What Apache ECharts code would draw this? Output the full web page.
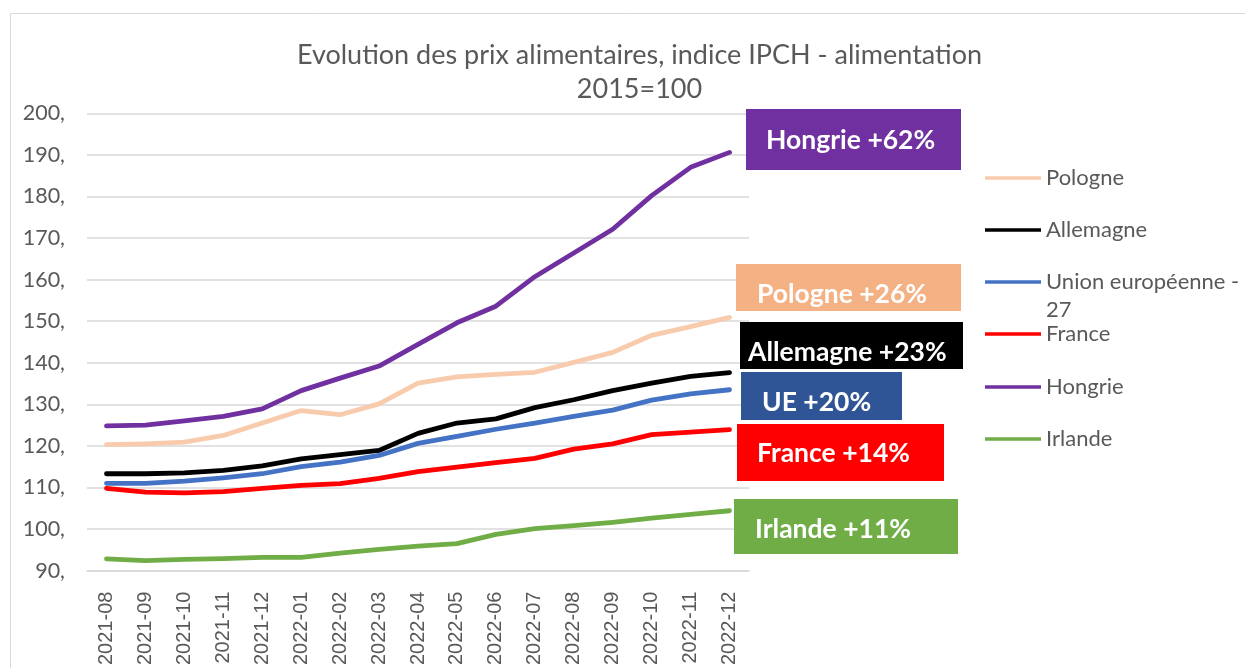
<!DOCTYPE html>
<html>
<head>
<meta charset="utf-8">
<script src="https://cdn.jsdelivr.net/npm/echarts@6/dist/echarts.min.js"></script>
<style>
html,body{margin:0;padding:0;background:#fff;}
#chart{width:1245px;height:668px;}
</style>
</head>
<body>
<div id="chart"></div>
<script>
var months = ['2021-08','2021-09','2021-10','2021-11','2021-12','2022-01','2022-02','2022-03','2022-04','2022-05','2022-06','2022-07','2022-08','2022-09','2022-10','2022-11','2022-12'];
var pologne   = [120.3,120.5,120.9,122.5,125.5,128.5,127.5,130.1,135.1,136.6,137.2,137.7,140.1,142.5,146.6,148.7,150.9];
var allemagne = [113.3,113.3,113.5,114.1,115.2,116.9,117.9,118.9,123.0,125.5,126.5,129.2,131.1,133.3,135.1,136.7,137.6];
var ue27      = [111.0,111.0,111.5,112.3,113.3,115.0,116.1,117.7,120.6,122.3,124.0,125.5,127.1,128.6,131.0,132.5,133.5];
var france    = [109.8,108.9,108.7,109.0,109.8,110.5,110.9,112.2,113.8,114.9,116.0,117.0,119.2,120.5,122.7,123.3,123.9];
var hongrie   = [124.8,125.0,126.0,127.1,128.9,133.3,136.3,139.2,144.4,149.6,153.6,160.7,166.4,172.1,180.2,187.0,190.6];
var irlande   = [92.8,92.4,92.7,92.9,93.2,93.2,94.2,95.1,95.9,96.5,98.7,100.1,100.8,101.6,102.6,103.5,104.4];

var seriesNames  = ['Pologne','Allemagne','Union européenne - 27','France','Hongrie','Irlande'];
var seriesData   = [pologne, allemagne, ue27, france, hongrie, irlande];
var seriesColors = ['#F8CBAD','#000000','#4472C4','#FF0000','#7030A0','#70AD47'];

var yTicks = {min: 90, max: 200, interval: 10};

var annotations = [
  {text:'Hongrie +62%',   bg:'#7030A0', x:746, y:109, w:215, h:61, tx:766, ty:140},
  {text:'Pologne +26%',   bg:'#F4B183', x:736, y:264, w:225, h:47, tx:757, ty:294},
  {text:'Allemagne +23%', bg:'#000000', x:740, y:322, w:223, h:47, tx:748, ty:352},
  {text:'UE +20%',        bg:'#2F5597', x:741, y:372, w:161, h:48, tx:762, ty:402},
  {text:'France +14%',    bg:'#FF0000', x:737, y:424, w:207, h:57, tx:757, ty:453},
  {text:'Irlande +11%',   bg:'#70AD47', x:734, y:499, w:224, h:55, tx:755, ty:529}
];

var FONT = 'Lato';
var GRAY = '#595959';

var chart = echarts.init(document.getElementById('chart'), null, {renderer:'canvas'});

var series = seriesNames.map(function(n, i){
  return {
    name: n, type: 'line', data: seriesData[i], symbol: 'none', smooth: false,
    lineStyle: {color: seriesColors[i], width: 4.8, cap: 'round', join: 'round'},
    itemStyle: {color: seriesColors[i]},
    z: 3
  };
});

var legendCenters = [178, 230, 282, 334, 387, 439];
var legends = seriesNames.map(function(n, i){
  var isUE = (i === 2);
  return {
    orient: 'vertical',
    left: 985,
    top: isUE ? legendCenters[i] - 42 : legendCenters[i] - 12,
    data: [n],
    icon: 'path://M0,0 L60,0 L60,4 L0,4 Z',
    itemWidth: 56, itemHeight: 5,
    itemGap: 0, padding: 0,
    selectedMode: false,
    formatter: isUE ? function(){ return ' \nUnion européenne -\n27'; } : '{name}',
    textStyle: {fontFamily: FONT, fontSize: 22, color: GRAY, lineHeight: isUE ? 28 : 24}
  };
});

var graphics = [
  {type:'rect', shape:{x:10.5, y:13.5, width:1260, height:700}, style:{fill:'none', stroke:'#D9D9D9', lineWidth:1}, silent:true, z:0}
];
annotations.forEach(function(a){
  graphics.push({type:'rect', shape:{x:a.x, y:a.y, width:a.w, height:a.h}, style:{fill:a.bg}, z:10, silent:true});
  graphics.push({type:'text', x:a.tx, y:a.ty, style:{text:a.text, fill:'#FFFFFF', font:'bold 26.5px ' + FONT, textAlign:'left', textVerticalAlign:'middle'}, z:11, silent:true});
});

chart.setOption({
  animation: false,
  backgroundColor: '#FFFFFF',
  title: {
    text: 'Evolution des prix alimentaires, indice IPCH - alimentation\n2015=100',
    left: 634.5, top: 33, textAlign: 'center',
    textStyle: {fontFamily: FONT, fontSize: 27, fontWeight: 'normal', color: GRAY, lineHeight: 34}
  },
  legend: legends,
  grid: {left: 87, top: 113.3, width: 662, height: 459, containLabel: false},
  xAxis: {
    type: 'category', data: months, boundaryGap: true,
    axisLine: {show: true, lineStyle: {color: '#D9D9D9', width: 1.5}},
    axisTick: {show: false},
    axisLabel: {rotate: 90, fontFamily: 'Liberation Sans', fontSize: 20, color: GRAY, margin: 21, interval: 0}
  },
  yAxis: {
    type: 'value', min: yTicks.min, max: yTicks.max, interval: yTicks.interval,
    axisLine: {show: false}, axisTick: {show: false},
    splitLine: {lineStyle: {color: '#D9D9D9', width: 1.5}},
    axisLabel: {fontFamily: FONT, fontSize: 21.5, color: GRAY, margin: 22, formatter: function(v){ return v + ','; }}
  },
  graphic: graphics,
  series: series
});
</script>
</body>
</html>
